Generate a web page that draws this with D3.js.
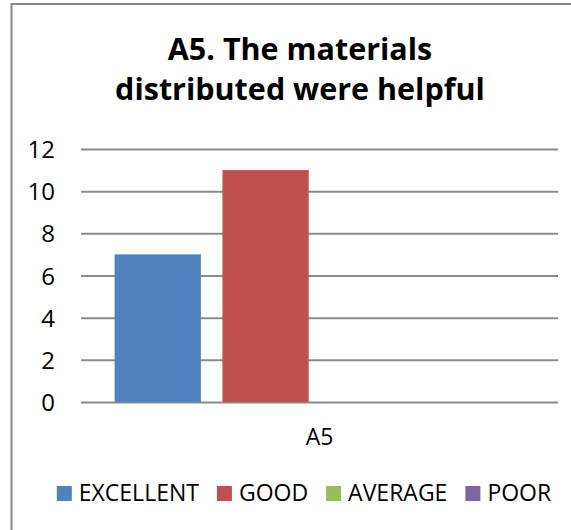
<!DOCTYPE html>
<html>
<head>
<meta charset="utf-8">
<script src="https://cdn.jsdelivr.net/npm/d3@7"></script>
<style>
  body { margin: 0; background: #fff; }
  text { font-family: "Open Sans", "Noto Sans", sans-serif; fill: #000; }
</style>
</head>
<body>
<script>
// data
const categories = ["A5"];
const seriesNames = ["EXCELLENT", "GOOD", "AVERAGE", "POOR"];
const seriesValues = [7, 11, 0, 0];
const seriesColors = ["#4F81BD", "#C0504D", "#9BBB59", "#8064A2"];
const yTicks = [0, 2, 4, 6, 8, 10, 12];
const titleLines = ["A5. The materials", "distributed were helpful"];

const width = 571;
const height = 530;

const svg = d3.select("body").append("svg")
    .attr("width", width)
    .attr("height", height);

// chart frame (runs off the right and bottom edge like the crop)
svg.append("rect")
    .attr("x", 11.5)
    .attr("y", 4)
    .attr("width", 620)
    .attr("height", 600)
    .attr("fill", "#fff")
    .attr("stroke", "#868686")
    .attr("stroke-width", 2);

// title
svg.selectAll(".title")
    .data(titleLines)
    .enter()
    .append("text")
    .attr("class", "title")
    .attr("x", 300)
    .attr("y", (d, i) => 60 + i * 40)
    .attr("text-anchor", "middle")
    .style("font-weight", "bold")
    .style("font-size", "30.5px")
    .text(d => d);

const plot = { left: 81, right: 558, top: 149, bottom: 402 };

const x0 = d3.scaleBand()
    .domain(categories)
    .range([plot.left, plot.right])
    .paddingOuter(0.082);

const x1 = d3.scaleBand()
    .domain(seriesNames)
    .range([0, x0.bandwidth()])
    .paddingInner(0.2);

const y = d3.scaleLinear()
    .domain([0, 12])
    .range([plot.bottom, plot.top]);

// gridlines
const grid = d3.axisLeft(y)
    .tickValues(yTicks)
    .tickSize(-(plot.right - plot.left))
    .tickFormat("");

svg.append("g")
    .attr("class", "gridline")
    .attr("transform", `translate(${plot.left},0)`)
    .call(grid)
    .call(g => g.select(".domain").remove())
    .call(g => g.selectAll("line").attr("stroke", "#8a8a8a").attr("stroke-width", 2));

// bars
svg.selectAll(".bar")
    .data(seriesValues)
    .enter()
    .append("rect")
    .attr("class", "bar")
    .attr("x", (d, i) => x0(categories[0]) + x1(seriesNames[i]))
    .attr("y", d => y(d))
    .attr("width", x1.bandwidth())
    .attr("height", d => y(0) - y(d))
    .attr("fill", (d, i) => seriesColors[i]);

// y axis labels
const yAxis = d3.axisLeft(y)
    .tickValues(yTicks)
    .tickSize(0)
    .tickPadding(0);

svg.append("g")
    .attr("transform", `translate(55,0)`)
    .call(yAxis)
    .call(g => g.select(".domain").remove())
    .call(g => g.selectAll("text")
        .attr("dy", "0.36em")
        .style("font-family", '"Open Sans", "Noto Sans", sans-serif')
        .style("font-size", "24px")
        .attr("fill", "#000"));

// x axis labels
const xAxis = d3.axisBottom(x0).tickSize(0).tickPadding(0);

svg.append("g")
    .attr("transform", `translate(0,${plot.bottom})`)
    .call(xAxis)
    .call(g => g.select(".domain").remove())
    .call(g => g.selectAll("text")
        .attr("dy", 0)
        .attr("y", 43)
        .style("font-family", '"Open Sans", "Noto Sans", sans-serif')
        .style("font-size", "23px")
        .attr("fill", "#000"));

// legend
const legend = svg.append("g");
const items = legend.selectAll(".item")
    .data(seriesNames)
    .enter()
    .append("g")
    .attr("class", "item");

items.append("rect")
    .attr("width", 15)
    .attr("height", 15)
    .attr("y", 486)
    .attr("fill", (d, i) => seriesColors[i]);

items.append("text")
    .attr("x", 22)
    .attr("y", 501)
    .style("font-size", "23px")
    .text(d => d);

let cursor = 0;
items.each(function() {
    const w = d3.select(this).select("text").node().getComputedTextLength();
    d3.select(this).attr("transform", `translate(${cursor},0)`);
    cursor += 22 + w + 18;
});
const total = cursor - 18;
legend.attr("transform", `translate(${304 - total / 2},0)`);
</script>
</body>
</html>
